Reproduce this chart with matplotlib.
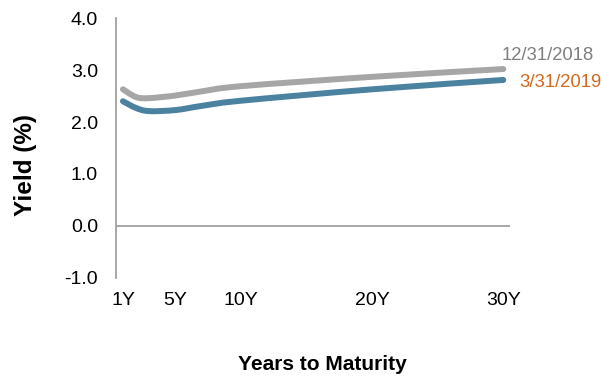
import numpy as np
import matplotlib.pyplot as plt
from matplotlib.path import Path
from matplotlib.patches import PathPatch

plt.rcParams['font.family'] = ['Liberation Sans', 'DejaVu Sans']

# treasury yield curve points (years, %)
maturities = [1, 2, 3, 5, 7, 10, 20, 30]
yield_dec2018 = [2.63, 2.48, 2.46, 2.51, 2.59, 2.69, 2.87, 3.02]
yield_mar2019 = [2.40, 2.27, 2.21, 2.23, 2.31, 2.41, 2.63, 2.81]
tick_years = [1, 5, 10, 20, 30]
tick_labels = ['1Y', '5Y', '10Y', '20Y', '30Y']

gray = '#a6a6a6'
blue = '#4a82a0'
orange = '#d2691e'


def smooth_path(xs, ys, tension=1 / 6):
    # catmull-rom through the points, as cubic bezier segments
    pts = np.column_stack([xs, ys]).astype(float)
    verts = [pts[0]]
    codes = [Path.MOVETO]
    n = len(pts)
    for i in range(n - 1):
        p0 = pts[max(i - 1, 0)]
        p1 = pts[i]
        p2 = pts[i + 1]
        p3 = pts[min(i + 2, n - 1)]
        c1 = p1 + (p2 - p0) * tension
        c2 = p2 - (p3 - p1) * tension
        verts += [c1, c2, p2]
        codes += [Path.CURVE4] * 3
    return Path(verts, codes)


fig = plt.figure(figsize=(6.01, 3.78), dpi=100)
ax = fig.add_axes([0.193, 0.265, 0.656, 0.687])

for ys, col in [(yield_dec2018, gray), (yield_mar2019, blue)]:
    patch = PathPatch(smooth_path(maturities, ys), facecolor='none',
                      edgecolor=col, lw=4.3, capstyle='round', joinstyle='round')
    ax.add_patch(patch)

ax.axhline(0, color='#a0a0a0', lw=1.3)

ax.set_xlim(0.47, 30.53)
ax.set_ylim(-1, 4)
ax.set_yticks(np.arange(-1, 4.1, 1))
ax.set_yticklabels([f'{v:.1f}' for v in np.arange(-1, 4.1, 1)])
ax.set_xticks(tick_years)
ax.set_xticklabels(tick_labels)
ax.tick_params(axis='both', length=0, labelsize=14, colors='black')
ax.tick_params(axis='x', pad=10)
ax.tick_params(axis='y', pad=13)

for s in ['top', 'right', 'bottom']:
    ax.spines[s].set_visible(False)
ax.spines['left'].set_color('#a0a0a0')
ax.spines['left'].set_linewidth(1.3)

ax.annotate('12/31/2018', (maturities[-1], yield_dec2018[-1]),
            xytext=(-1, 9.5), textcoords='offset points',
            ha='left', va='center', fontsize=13.3, color='#7f7f7f',
            annotation_clip=False)
ax.annotate('3/31/2019', (maturities[-1], yield_mar2019[-1]),
            xytext=(11.5, -1.5), textcoords='offset points',
            ha='left', va='center', fontsize=13.3, color=orange,
            annotation_clip=False)

fig.text(0.042, 0.563, 'Yield (%)', rotation=90, ha='center', va='center',
         fontsize=17.5, fontweight='bold')
fig.text(0.537, 0.037, 'Years to Maturity', ha='center', va='center',
         fontsize=15, fontweight='bold')

fig.savefig('out.png', dpi=100)
